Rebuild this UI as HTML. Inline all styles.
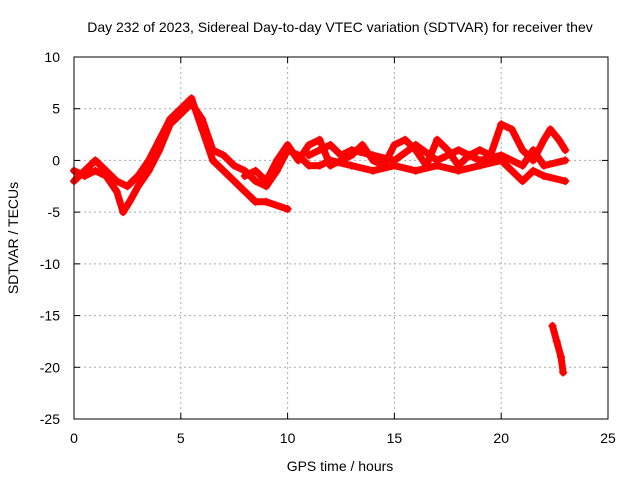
<!DOCTYPE html>
<html><head><meta charset="utf-8"><style>
body{margin:0;background:#fff}
svg{display:block;font-family:"Liberation Sans",sans-serif;font-size:14px}
</style></head><body>
<svg id="c" width="640" height="480">
<rect width="640" height="480" fill="#fff"/>
<text x="340" y="32" text-anchor="middle">Day 232 of 2023, Sidereal Day-to-day VTEC variation (SDTVAR) for receiver thev</text>
<text x="340" y="471" text-anchor="middle">GPS time / hours</text>
<text x="18" y="238" text-anchor="middle" transform="rotate(-90 18 238)">SDTVAR / TECUs</text>
<g id="grid"></g><g id="marks"></g><g id="axes"></g>
</svg>
<script>
const xTicks=[0,5,10,15,20,25];
const yTicks=[10,5,0,-5,-10,-15,-20,-25];
const s1=[[0,-1],[0.5,-1.5],[1,-1],[1.5,-1.5],[2,-3],[2.3,-5],[2.6,-4],[3,-2.5],[3.5,-1],[4,1],[4.5,3.5],[5,4.5],[5.5,5.5],[6,4],[6.5,1],[7,0.5],[7.5,-0.5],[8,-1],[8.5,-2],[9,-2.5],[9.5,-1],[10,1],[10.5,0.5],[11,-0.5],[11.5,-0.5],[12,0],[13,-0.5],[14,-1],[15,-0.5],[16,-1],[17,-0.5],[18,-1],[19,-0.5],[20,0],[20.5,-1],[21,-2],[21.5,-1],[22,-1.5],[23,-2]];
const s2=[[0,-2],[0.5,-1],[1,0],[1.5,-1],[2,-2],[2.5,-2.5],[3,-1.5],[3.5,0],[4,2],[4.5,4],[5,5],[5.5,6],[6,3],[6.5,0],[7,-1],[7.5,-2],[8,-3],[8.5,-4],[9,-4],[10,-4.7]];
const s3=[[8,-1.5],[8.5,-1],[9,-2],[9.5,0],[10,1.5],[10.5,0],[11,1.5],[11.5,2],[12,-0.5],[13,0.5],[13.5,1.5],[14,0],[14.5,-0.5],[15,1.5],[15.5,2],[16,1],[16.5,-0.5],[17,2],[17.5,1],[18,-0.5],[18.5,0.5],[19,1],[19.5,0.5],[20,3.5],[20.5,3],[21,1],[21.5,0],[22,2],[22.3,3],[22.7,2],[23,1]];
const s4=[[22.4,-16],[22.6,-17.5],[22.8,-19],[22.9,-20.5]];
const s5=[[11,0.5],[12,1.5],[12.5,0.5],[13,1],[14,0.5],[15,0],[16,1.5],[17,0],[18,1],[19,0],[20,0.5],[21,-0.5],[21.5,1],[22,-0.5],[23,0]];
const series=[s1,s2,s3,s4,s5];
const X0=74,X1=608,Y0=57,Y1=419;
const sx=v=>X0+(v-0)/25*(X1-X0);
const sy=v=>Y0+(10-v)/35*(Y1-Y0);
const NS='http://www.w3.org/2000/svg';
function mk(t,a,p){const e=document.createElementNS(NS,t);for(const k in a)e.setAttribute(k,a[k]);p.appendChild(e);return e;}
const grid=document.getElementById('grid'),axes=document.getElementById('axes'),marks=document.getElementById('marks');
xTicks.forEach(v=>{
 if(v>0&&v<25){const g=mk('line',{x1:sx(v),x2:sx(v),y1:Y0,y2:Y1,stroke:'#aaa','stroke-dasharray':'2,3'},grid);
 
 }
 const t=mk('text',{x:sx(v),y:Y1+24,'text-anchor':'middle'},axes);t.textContent=v;
 
 
 mk('line',{x1:sx(v),x2:sx(v),y1:Y1,y2:Y1-6,stroke:'#000'},axes);
 mk('line',{x1:sx(v),x2:sx(v),y1:Y0,y2:Y0+6,stroke:'#000'},axes);
});
yTicks.forEach(v=>{
 if(v<10&&v>-25){const g=mk('line',{x1:X0,x2:X1,y1:sy(v),y2:sy(v),stroke:'#aaa','stroke-dasharray':'2,3'},grid);
 
 }
 const t=mk('text',{x:X0-14,y:sy(v)+5,'text-anchor':'end'},axes);t.textContent=v;
 
 
 mk('line',{x1:X0,x2:X0+6,y1:sy(v),y2:sy(v),stroke:'#000'},axes);
 mk('line',{x1:X1,x2:X1-6,y1:sy(v),y2:sy(v),stroke:'#000'},axes);
});
const fr=mk('rect',{x:X0,y:Y0,width:X1-X0,height:Y1-Y0,fill:'none',stroke:'#000'},axes);


series.forEach((s,i)=>{
 const pl=mk('polyline',{points:s.map(p=>sx(p[0])+','+sy(p[1])).join(' '),fill:'none',stroke:'#f00','stroke-width':7,'stroke-linejoin':'round','stroke-linecap':'round'},marks);
 
 
 s.forEach(p=>{
  const x=sx(p[0]),y=sy(p[1]);
  const m=mk('path',{d:`M${x-4},${y}H${x+4}M${x},${y-4}V${y+4}`,stroke:'#f00','stroke-width':1.5},marks);
  
  
 });
});
</script>
</body></html>
